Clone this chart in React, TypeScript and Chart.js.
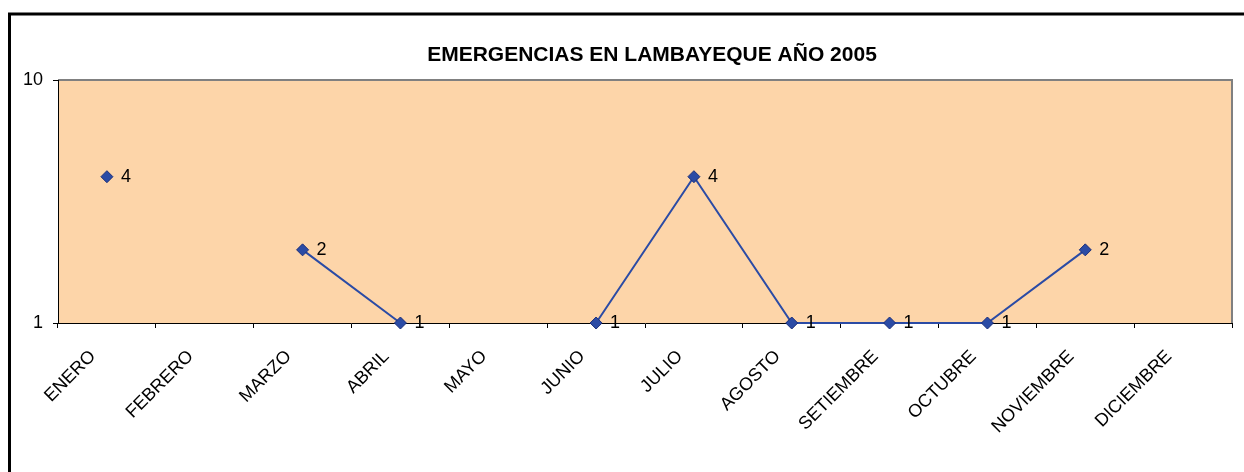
import React, { useEffect, useRef } from "react";
import { Chart, registerables } from "chart.js";

Chart.register(...registerables);

const MONTHS = [
  "ENERO", "FEBRERO", "MARZO", "ABRIL", "MAYO", "JUNIO",
  "JULIO", "AGOSTO", "SETIEMBRE", "OCTUBRE", "NOVIEMBRE", "DICIEMBRE",
];
const EMERGENCIAS: (number | null)[] = [4, null, 2, 1, null, 1, 4, 1, 1, 1, 2, null];
const Y_TICKS = [1, 10];
const TITLE = "EMERGENCIAS EN LAMBAYEQUE AÑO 2005";

const FONT = '"Liberation Sans", Arial, sans-serif';
const PLOT_BG = "#FDD5A9";
const LINE_COLOR = "#2B4BA5";

const framePlugin = {
  id: "frame",
  beforeDraw(chart: any) {
    const { ctx, chartArea: a } = chart;
    ctx.save();
    ctx.fillStyle = "#ffffff";
    ctx.fillRect(0, 0, chart.width, chart.height);
    ctx.strokeStyle = "#000000";
    ctx.lineWidth = 3;
    ctx.strokeRect(9.5, 14, chart.width + 50, chart.height + 50);
    ctx.fillStyle = PLOT_BG;
    ctx.fillRect(a.left, a.top, a.right - a.left, a.bottom - a.top);
    ctx.strokeStyle = "#808080";
    ctx.lineWidth = 2;
    ctx.beginPath();
    ctx.moveTo(a.left, a.top);
    ctx.lineTo(a.right, a.top);
    ctx.lineTo(a.right, a.bottom);
    ctx.stroke();
    ctx.fillStyle = "#000000";
    ctx.font = `bold 21px ${FONT}`;
    ctx.textAlign = "center";
    ctx.textBaseline = "middle";
    ctx.fillText(TITLE, (a.left + a.right) / 2 + 7, 55);
    ctx.restore();
  },
};

const labelPlugin = {
  id: "pointLabels",
  afterDatasetsDraw(chart: any) {
    const { ctx } = chart;
    const meta = chart.getDatasetMeta(0);
    ctx.save();
    ctx.fillStyle = "#000000";
    ctx.font = `18px ${FONT}`;
    ctx.textAlign = "left";
    ctx.textBaseline = "middle";
    meta.data.forEach((pt: any, i: number) => {
      const v = EMERGENCIAS[i];
      if (v == null) return;
      ctx.fillText(String(v), pt.x + 14, pt.y);
    });
    ctx.restore();
  },
};

export default function App() {
  const ref = useRef<HTMLCanvasElement>(null);
  useEffect(() => {
    if (!ref.current) return;
    const chart = new Chart(ref.current, {
      type: "line",
      data: {
        labels: MONTHS,
        datasets: [
          {
            data: EMERGENCIAS,
            borderColor: LINE_COLOR,
            backgroundColor: LINE_COLOR,
            borderWidth: 2,
            tension: 0,
            spanGaps: false,
            pointStyle: "rectRot",
            pointRadius: 6,
            pointBackgroundColor: LINE_COLOR,
            pointBorderColor: "#1C2F7A",
            pointBorderWidth: 1,
            clip: false as any,
          },
        ],
      },
      options: {
        responsive: false,
        animation: false,
        layout: { padding: { left: 0, right: 12, top: 80, bottom: 0 } },
        plugins: {
          legend: { display: false },
          tooltip: { enabled: false },
          title: { display: false },
        },
        scales: {
          x: {
            type: "category",
            offset: true,
            grid: {
              offset: true,
              drawOnChartArea: false,
              drawTicks: true,
              tickLength: 5,
              color: "#000000",
            },
            border: { display: true, color: "#000000", width: 1 },
            ticks: {
              autoSkip: false,
              maxRotation: 45,
              minRotation: 45,
              padding: 18,
              labelOffset: -14,
              color: "#000000",
              font: { family: FONT, size: 18 },
            },
            afterFit(scale: any) {
              scale.height = 149;
            },
          },
          y: {
            type: "logarithmic",
            min: 1,
            max: 10,
            grid: {
              drawOnChartArea: false,
              drawTicks: true,
              tickLength: 5,
              color: "#000000",
            },
            border: { display: true, color: "#000000", width: 1 },
            ticks: {
              padding: 10,
              color: "#000000",
              font: { family: FONT, size: 18 },
              callback: (v: any) => String(v),
            },
            afterBuildTicks(scale: any) {
              scale.ticks = Y_TICKS.map((v) => ({ value: v }));
            },
            afterFit(scale: any) {
              scale.width = 58;
            },
          },
        },
      },
      plugins: [framePlugin, labelPlugin],
    });
    return () => chart.destroy();
  }, []);
  return (
    <div style={{ position: "fixed", left: 0, top: 0, width: 1244, height: 472 }}>
      <canvas ref={ref} width={1244} height={472} style={{ width: 1244, height: 472 }} />
    </div>
  );
}
